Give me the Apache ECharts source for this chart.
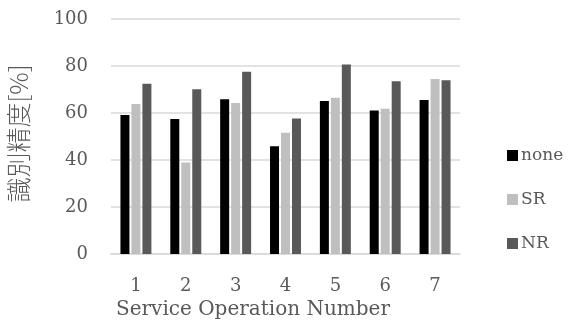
<!DOCTYPE html>
<html>
<head>
<meta charset="utf-8">
<script src="https://cdn.jsdelivr.net/npm/echarts@6/dist/echarts.min.js"></script>
<style>
  html, body { margin: 0; padding: 0; background: #fff; }
  #chart { width: 575px; height: 327px; }
</style>
</head>
<body>
<div id="chart"></div>
<script>
// Recognition accuracy per service operation
const categories = ['1', '2', '3', '4', '5', '6', '7'];
const noneValues = [59.1, 57.4, 65.8, 45.8, 65.1, 61.1, 65.5];
const srValues   = [63.8, 38.9, 64.3, 51.6, 66.5, 61.8, 74.5];
const nrValues   = [72.5, 70.1, 77.6, 57.7, 80.6, 73.5, 73.9];
const yTicks = [0, 20, 40, 60, 80, 100];

const serif = '"DejaVu Serif", "Liberation Serif", serif';
const textColor = '#595959';

const chart = echarts.init(document.getElementById('chart'), null, { renderer: 'canvas' });

function barSeries(name, data, color) {
  return {
    name: name,
    type: 'bar',
    data: data,
    barWidth: 9,
    barGap: '22%',
    itemStyle: { color: color },
    animation: false
  };
}

chart.setOption({
  animation: false,
  grid: { left: 111, right: 115, top: 19, bottom: 73, containLabel: false, outerBoundsMode: 'none' },
  legend: {
    orient: 'vertical',
    left: 502,
    top: 142,
    itemWidth: 11,
    itemHeight: 11,
    itemGap: 27,
    icon: 'rect',
    textStyle: { fontFamily: serif, fontSize: 17, color: textColor, padding: [0, 0, 0, -2] },
    data: ['none', 'SR', 'NR']
  },
  xAxis: {
    type: 'category',
    data: categories,
    axisTick: { show: false },
    axisLine: { show: true, lineStyle: { color: '#d9d9d9', width: 1.5 } },
    axisLabel: { fontFamily: serif, fontSize: 18, color: textColor, margin: 23 },
    name: 'Service Operation Number',
    nameLocation: 'middle',
    nameGap: 34,
    nameTextStyle: { fontFamily: serif, fontSize: 20, color: textColor, padding: [0, 65, 0, 0] }
  },
  yAxis: {
    type: 'value',
    min: yTicks[0],
    max: yTicks[yTicks.length - 1],
    interval: 20,
    axisLine: { show: false },
    axisTick: { show: false },
    splitLine: { lineStyle: { color: '#d9d9d9', width: 1.5 } },
    axisLabel: { fontFamily: serif, fontSize: 18, color: textColor, margin: 23 },
    name: '識別精度[%]',
    nameLocation: 'middle',
    nameRotate: 90,
    nameGap: 80,
    nameTextStyle: { fontFamily: '"Noto Sans CJK JP", sans-serif', fontSize: 25, fontWeight: 300, color: textColor, padding: [0, 0, 0, 6] }
  },
  series: [
    barSeries('none', noneValues, '#000000'),
    barSeries('SR', srValues, '#bfbfbf'),
    barSeries('NR', nrValues, '#595959')
  ]
});
</script>
</body>
</html>
